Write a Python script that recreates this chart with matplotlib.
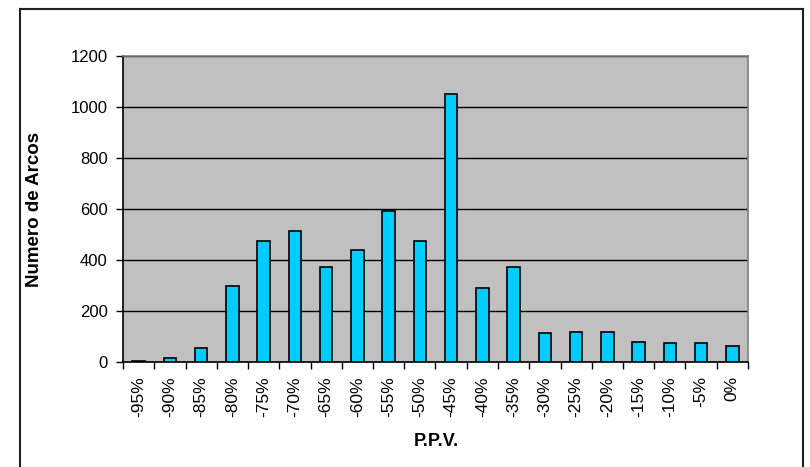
import matplotlib
matplotlib.use("Agg")
import matplotlib.pyplot as plt
from matplotlib.lines import Line2D
import numpy as np

# PPV classes and number of arcs per class
ppv_labels = ["-95%", "-90%", "-85%", "-80%", "-75%", "-70%", "-65%", "-60%", "-55%", "-50%",
              "-45%", "-40%", "-35%", "-30%", "-25%", "-20%", "-15%", "-10%", "-5%", "0%"]
num_arcos = [6, 17, 57, 298, 476, 516, 372, 441, 591, 476,
             1050, 292, 372, 114, 120, 120, 80, 75, 75, 62]
y_ticks = [0, 200, 400, 600, 800, 1000, 1200]

plt.rcParams['font.family'] = ['Liberation Sans', 'DejaVu Sans']

fig = plt.figure(figsize=(8.1, 4.67), dpi=100)
W, H = 810, 467
ax = fig.add_axes([123 / W, 1 - 362.3 / H, (748 - 123) / W, (362.3 - 56) / H])
ax.set_facecolor('#c0c0c0')

x = np.arange(len(ppv_labels))
ax.bar(x, num_arcos, width=0.4, color='#00ccff', edgecolor='black', linewidth=1.2, zorder=3)

ax.set_xlim(-0.5, len(ppv_labels) - 0.5)
ax.set_ylim(0, 1200)
ax.set_yticks(y_ticks)
ax.set_yticklabels([str(v) for v in y_ticks], fontsize=12)
ax.yaxis.grid(True, color='black', linewidth=1)
ax.set_axisbelow(True)

# category labels centred, tick marks on the category boundaries
ax.set_xticks(x)
ax.set_xticklabels(ppv_labels, rotation=90, fontsize=12.5)
ax.tick_params(axis='x', length=0, pad=10)
ax.set_xticks(np.arange(len(ppv_labels) + 1) - 0.5, minor=True)
ax.tick_params(axis='x', which='minor', length=5, width=1, direction='out')
ax.tick_params(axis='y', length=5, width=1, direction='out', pad=6)

for side in ['left', 'bottom']:
    ax.spines[side].set_color('black')
    ax.spines[side].set_linewidth(1.2)
for side in ['top', 'right']:
    ax.spines[side].set_color('#808080')
    ax.spines[side].set_linewidth(1.2)

fig.text(35 / W, 1 - 209 / H, 'Numero de Arcos', rotation=90, fontsize=13.5,
         fontweight='bold', ha='center', va='center')
fig.text(436 / W, 1 - 442 / H, 'P.P.V.', fontsize=13, fontweight='bold',
         ha='center', va='center')

# chart frame (bottom edge falls outside the image)
for xs, ys in [([20, 20], [480, 9]), ([20, 802.5], [9, 9]), ([802.5, 802.5], [9, 480])]:
    fig.add_artist(Line2D([v / W for v in xs], [1 - v / H for v in ys],
                          color='#202020', linewidth=1.5))

fig.savefig('out.png', dpi=100)
